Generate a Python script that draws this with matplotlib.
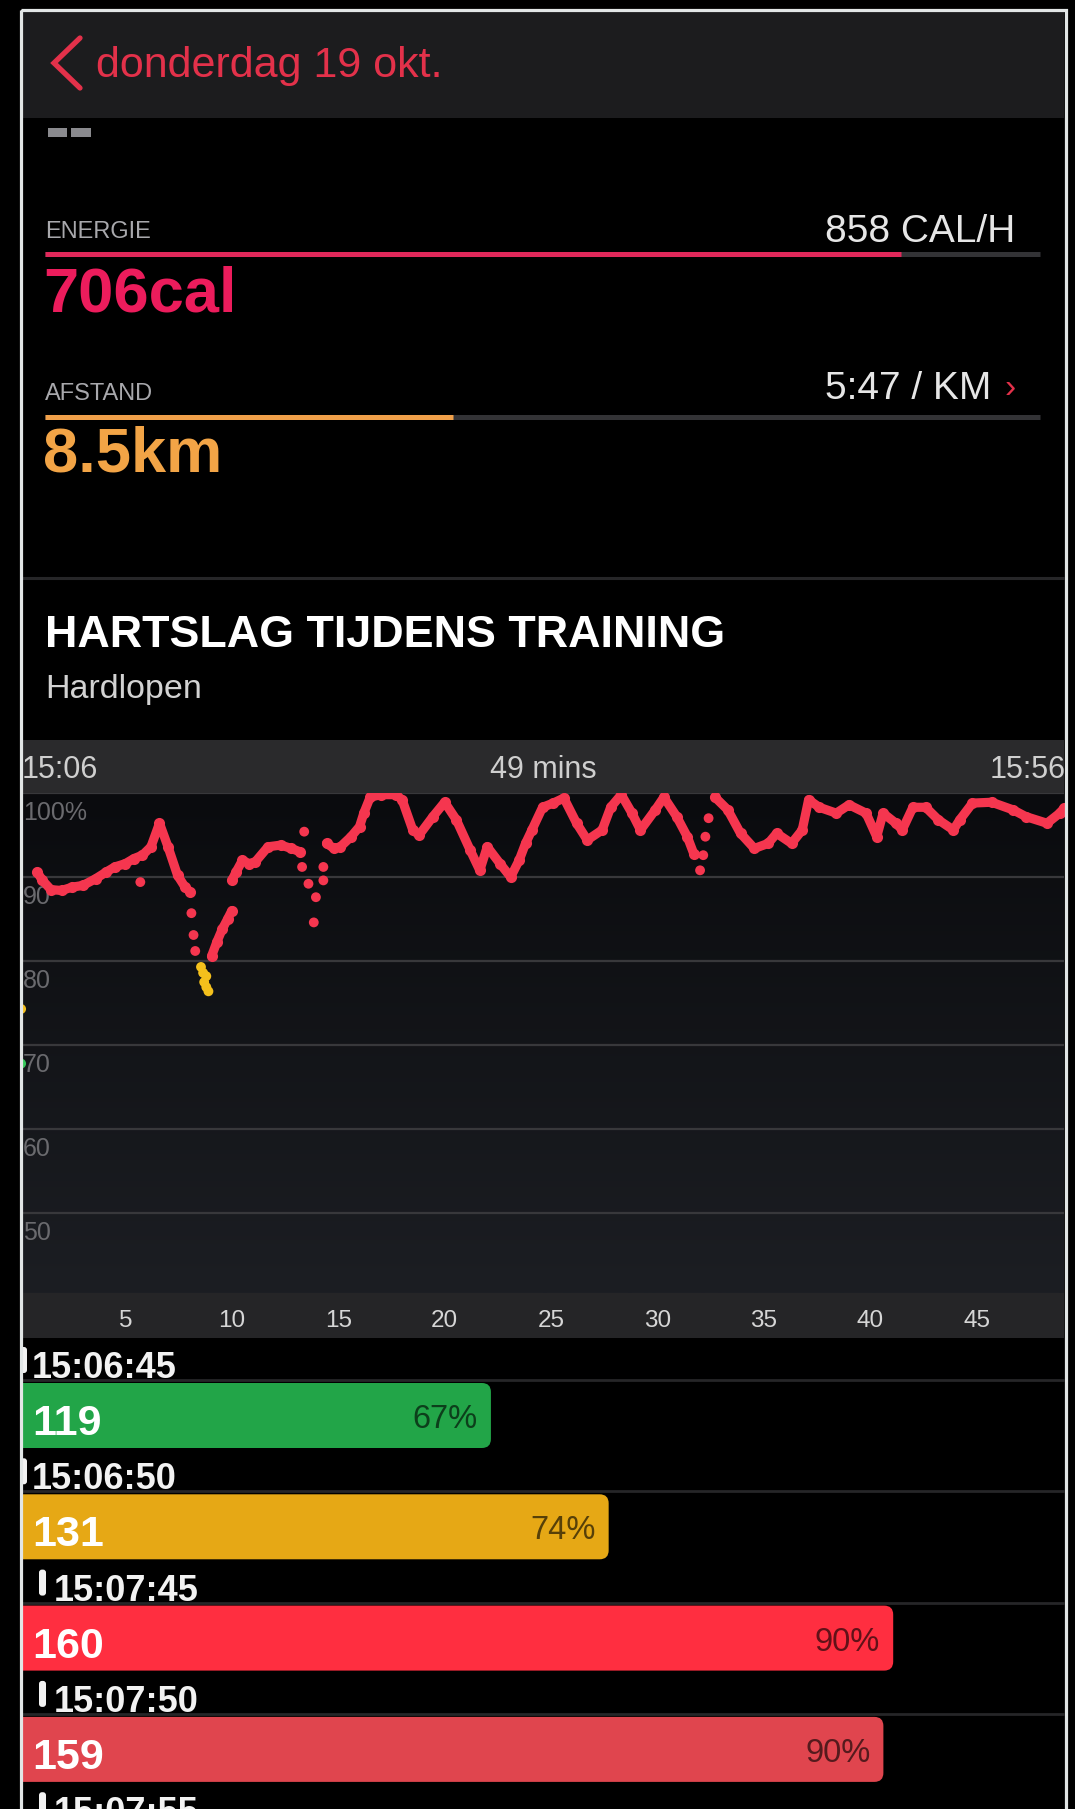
import numpy as np
import matplotlib.pyplot as plt
from matplotlib import transforms
from matplotlib.colors import LinearSegmentedColormap
from matplotlib.patches import Rectangle, FancyBboxPatch

W, H = 1075, 1809
plt.rcParams["font.family"] = ["Liberation Sans", "DejaVu Sans"]

# summary block
nav_title = "donderdag 19 okt."
energy_label, energy_value, energy_rate = "ENERGIE", "706cal", "858 CAL/H"
energy_fill = 0.86
distance_label, distance_value, pace = "AFSTAND", "8.5km", "5:47 / KM"
distance_fill = 0.41
section_title = "HARTSLAG TIJDENS TRAINING"
section_sub = "Hardlopen"

# heart rate chart (minutes since start, % of max heart rate)
hr_start, hr_duration, hr_end = "15:06", "49 mins", "15:56"
pct_ticks = [100, 90, 80, 70, 60, 50]
pct_tick_labels = ["100%", "90", "80", "70", "60", "50"]
minute_ticks = [5, 10, 15, 20, 25, 30, 35, 40, 45]

nan = float("nan")
trace_min = [0.85, 1.1, 1.5, 2.0, 2.5, 3.0, 3.6, 4.1, 4.5, 5.0, 5.4, 5.8, 6.2, 6.6, 7.0, 7.45, 7.8, 8.05, nan,
             9.05, 9.3, 9.55, 9.8, 10.0, nan,
             10.0, 10.2, 10.5, 10.8, 11.1, 11.7, 12.3, 12.8, 13.2, nan,
             14.45, 14.8, 15.1, 15.6, 16.0, 16.2, 16.5, 17.0, 17.7, 18.0, 18.5, 18.8, 19.45, 20.0, 20.55,
             21.2, 21.65, 22.0, 22.6, 23.1, 23.5, 23.8, 24.1, 24.6, 25.1, 25.6, 26.2, 26.7, 27.4, 27.8,
             28.3, 28.8, 29.2, 29.9, 30.3, 30.9, 31.4, 31.7, nan,
             32.7, 33.3, 33.9, 34.55, 35.2, 35.6, 36.3, 36.8, 37.1, 37.6, 38.4, 39.0, 39.8, 40.3, 40.6,
             41.2, 41.5, 42.0, 42.6, 43.2, 43.9, 44.2, 44.8, 45.7, 46.7, 47.3, 48.3, 48.9, 49.1]
trace_pct = [90.6, 89.6, 88.5, 88.4, 88.8, 89.0, 89.8, 90.6, 91.2, 91.6, 92.2, 92.6, 93.6, 96.4, 93.6, 90.2, 88.8, 88.2, nan,
             80.6, 82.3, 83.8, 85.0, 86.0, nan,
             89.6, 90.6, 92.0, 91.6, 91.8, 93.6, 93.8, 93.4, 93.0, nan,
             94.0, 93.4, 93.6, 94.8, 96.0, 97.6, 99.5, 99.8, 99.8, 99.2, 95.6, 95.0, 97.2, 98.9, 96.8,
             93.2, 90.8, 93.6, 91.6, 90.0, 92.0, 94.0, 95.6, 98.3, 98.8, 99.4, 96.4, 94.4, 95.6, 98.3,
             99.8, 97.6, 95.6, 98.0, 99.5, 97.2, 94.8, 92.8, nan,
             99.5, 98.0, 95.2, 93.4, 94.0, 95.2, 94.0, 95.6, 99.2, 98.3, 97.6, 98.6, 97.6, 94.8, 97.6,
             96.4, 95.6, 98.3, 98.3, 96.8, 95.6, 96.8, 98.8, 98.9, 98.0, 97.2, 96.4, 97.6, 98.2]

dot_min = [0.1, 0.1, 5.7, 8.1, 8.2, 8.28, 8.55, 8.65, 8.8, 8.7, 8.8, 8.9,
           13.3, 13.6, 13.95, 13.85, 14.3, 14.3, 13.4, 32.0, 32.15, 32.25, 32.4]
dot_pct = [67.8, 74.3, 89.4, 85.7, 83.1, 81.2, 79.3, 78.6, 78.2, 77.5, 76.9, 76.4,
           91.2, 89.2, 87.6, 84.6, 91.2, 89.6, 95.4, 90.8, 92.6, 94.8, 97.0]

# individual readings list
MAX_HR = 177
read_times = ["15:06:45", "15:06:50", "15:07:45", "15:07:50", "15:07:55"]
read_bpm = [119, 131, 160, 159]
read_pct = ["67%", "74%", "90%", "90%"]
read_colors = ["#22a548", "#e6a815", "#ff2e40", "#e0454e"]

RED = "#f5364f"
YELLOW = "#f4c01c"
GREEN = "#34c759"


def zone_color(p):
    if p < 70:
        return GREEN
    if p < 80:
        return YELLOW
    return RED


def px_axes(fig, x0, y0, x1, y1):
    return fig.add_axes([x0 / W, 1 - y1 / H, (x1 - x0) / W, (y1 - y0) / H])


fig = plt.figure(figsize=(W / 100, H / 100), dpi=100, facecolor="black")

# background layer in pixel coordinates
bg = px_axes(fig, 0, 0, W, H)
bg.set_xlim(0, W)
bg.set_ylim(H, 0)
bg.axis("off")
bg.set_facecolor("black")

bg.add_patch(Rectangle((22, 12), 1042, 106, color="#1c1c1e", lw=0))
bg.plot([80, 54, 80], [38, 63, 88], color="#e3314a", lw=3.8, solid_capstyle="round",
        solid_joinstyle="miter")
bg.text(96, 77, nav_title, color="#e3314a", fontsize=31, va="baseline")

bg.add_patch(Rectangle((48, 128), 19, 9, color="#8a8a8e", lw=0))
bg.add_patch(Rectangle((71, 128), 20, 9, color="#8a8a8e", lw=0))

x0_track, x1_track = 45, 1040
bg.text(x0_track, 238, energy_label, color="#a8a8ac", fontsize=17, va="baseline")
bg.text(1015, 242, energy_rate, color="#e6e6e6", fontsize=28, va="baseline", ha="right")
bg.hlines(254, x0_track, x1_track, color="#333336", lw=3.6)
bg.hlines(254, x0_track, x0_track + energy_fill * (x1_track - x0_track), color="#e0285a", lw=3.6)
bg.text(x0_track - 2, 312, energy_value, color="#ec1c5c", fontsize=45.5, fontweight="bold", va="baseline")

bg.text(x0_track, 400, distance_label, color="#a8a8ac", fontsize=17, va="baseline")
bg.text(991, 399, pace, color="#e6e6e6", fontsize=28, va="baseline", ha="right")
bg.text(1004, 397, "›", color="#e3314a", fontsize=24, va="baseline")
bg.hlines(417, x0_track, x1_track, color="#333336", lw=3.6)
bg.hlines(417, x0_track, x0_track + distance_fill * (x1_track - x0_track), color="#f0a04a", lw=3.6)
bg.text(x0_track - 2, 472, distance_value, color="#f2a446", fontsize=45.5, fontweight="bold", va="baseline")

bg.hlines(578, 22, 1064, color="#262628", lw=2.2)
bg.text(x0_track, 647, section_title, color="white", fontsize=32.3, fontweight="bold", va="baseline")
bg.text(x0_track, 698, section_sub, color="#d2d2d2", fontsize=24.5, va="baseline")

# chart header and axis bands
bg.add_patch(Rectangle((22, 740), 1042, 53, color="#2a2a2c", lw=0))
bg.text(22, 778, hr_start, color="#cfcfcf", fontsize=22, va="baseline")
bg.text(543, 778, hr_duration, color="#cfcfcf", fontsize=22, va="baseline", ha="center")
bg.text(1066, 778, hr_end, color="#cfcfcf", fontsize=22, va="baseline", ha="right")
bg.add_patch(Rectangle((22, 1293), 1042, 45, color="#252527", lw=0))

# heart rate chart
ax = px_axes(fig, 22, 793, 1064, 1293)
xlim, ylim = (0.14, 49.1), (40.5, 100)
cmap = LinearSegmentedColormap.from_list("bgfade", ["#0a0b0e", "#1c1e23"])
ax.imshow(np.linspace(1, 0, 256).reshape(-1, 1), cmap=cmap, aspect="auto", origin="lower",
          extent=[xlim[0], xlim[1], ylim[0], ylim[1]], zorder=0)
ax.set_xlim(*xlim)
ax.set_ylim(*ylim)
for s in ax.spines.values():
    s.set_visible(False)
ax.set_yticks(pct_ticks)
ax.tick_params(axis="y", length=0, labelleft=False)
ax.grid(axis="y", color="#38383b", lw=1.6)
ax.set_axisbelow(True)
ax.set_xticks(minute_ticks)
ax.set_xticklabels([str(t) for t in minute_ticks])
ax.tick_params(axis="x", length=0, pad=12, labelsize=17.5, labelcolor="#d6d6d6")

label_trans = transforms.offset_copy(
    transforms.blended_transform_factory(ax.transAxes, ax.transData), fig=fig, x=1, y=-20, units="dots")
for v, lab in zip(pct_ticks, pct_tick_labels):
    ax.text(0, v, lab, transform=label_trans, color="#6a6a6e", fontsize=18, va="center", ha="left")

ax.plot(trace_min, trace_pct, color=RED, lw=6.6, solid_capstyle="round", solid_joinstyle="round",
        marker="o", ms=8, mew=0, zorder=3)
ax.scatter(dot_min, dot_pct, s=50, c=[zone_color(p) for p in dot_pct], linewidths=0, zorder=4)

# readings list
ROW, BAR_TOP, BAR_H = 111.3, 1383, 65
for i, t in enumerate(read_times):
    top = BAR_TOP + i * ROW
    bg.hlines(top - 3, 22, 1064, color="#262628", lw=2)
    if i < 2:
        bg.add_patch(FancyBboxPatch((20, top - 36), 7, 26, boxstyle="round,pad=0,rounding_size=3",
                                    color="#f2f2f2", lw=0))
        tx = 32
    else:
        bg.add_patch(FancyBboxPatch((39, top - 36), 7, 26, boxstyle="round,pad=0,rounding_size=3",
                                    color="#f2f2f2", lw=0))
        tx = 54
    bg.text(tx, top - 5, t, color="#f2f2f2", fontsize=26, fontweight="bold", va="baseline")

# bar scale: 40% of max HR sits at x=18 px, max HR at x=1060 px; axes clipped at the frame (x=22)
SCALE0, SCALE1 = 18, 1060
BX0, BX1 = 22, 1064
lo = 0.4 * MAX_HR
px_per_bpm = (SCALE1 - SCALE0) / (MAX_HR - lo)
bx = px_axes(fig, BX0, 1340, BX1, H)
bx.set_xlim(lo + (BX0 - SCALE0) / px_per_bpm, MAX_HR + (BX1 - SCALE1) / px_per_bpm)
bx.set_ylim(H, 1340)
bx.axis("off")
bx.patch.set_alpha(0)
rad = 9 / px_per_bpm
tr = transforms.blended_transform_factory(bg.transData, bx.transData)
for i, (bpm, pct, col) in enumerate(zip(read_bpm, read_pct, read_colors)):
    top = BAR_TOP + i * ROW
    bx.add_patch(FancyBboxPatch((lo - 3, top), bpm - (lo - 3), BAR_H,
                                boxstyle=f"round,pad=0,rounding_size={rad}",
                                mutation_aspect=px_per_bpm, fc=col, ec="none"))
    bx.text(32, top + 52, str(bpm), transform=tr, color="white", fontsize=31, fontweight="bold",
            va="baseline")
    end_px = SCALE0 + (bpm - lo) * px_per_bpm
    bx.text(end_px - 13, top + 45, pct, transform=tr, color="black", alpha=0.62, fontsize=23.5,
            va="baseline", ha="right")

# device frame on top
fg = px_axes(fig, 0, 0, W, H)
fg.set_xlim(0, W)
fg.set_ylim(H, 0)
fg.axis("off")
fg.patch.set_alpha(0)
fg.add_patch(Rectangle((20.5, 10), 1045, 1850, fill=False, ec="#e2e6e6", lw=2.3))

fig.savefig("out.png", dpi=100, facecolor="black")
